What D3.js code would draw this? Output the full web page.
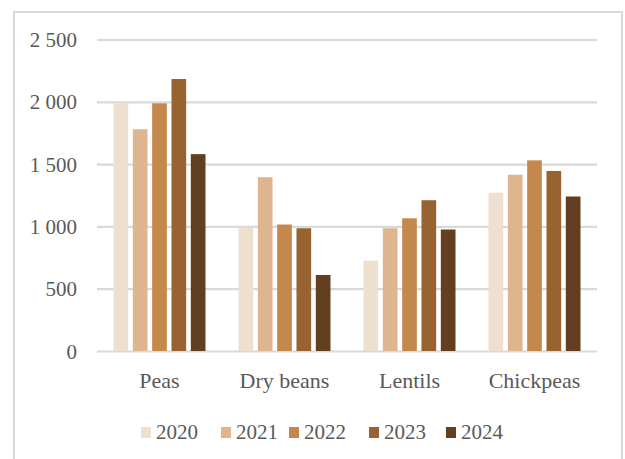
<!DOCTYPE html>
<html>
<head>
<meta charset="utf-8">
<script src="https://cdn.jsdelivr.net/npm/d3@7"></script>
<style>
html,body{margin:0;padding:0;background:#fff;}
svg{display:block;}
svg text{font-family:"Times New Roman","Liberation Serif","DejaVu Serif",serif !important;fill:#595959;}
</style>
</head>
<body>
<svg id="chart" width="625" height="459"></svg>
<script>
const categories = ["Peas", "Dry beans", "Lentils", "Chickpeas"];
const years = ["2020", "2021", "2022", "2023", "2024"];
const v2020 = [1990, 990, 725, 1270];
const v2021 = [1780, 1395, 985, 1415];
const v2022 = [1988, 1015, 1065, 1530];
const v2023 = [2183, 985, 1210, 1445];
const v2024 = [1580, 610, 975, 1240];
const yTicks = [0, 500, 1000, 1500, 2000, 2500];
const colors = ["#efdfcf", "#deb58f", "#c4884d", "#966331", "#623f21"];

const series = [v2020, v2021, v2022, v2023, v2024];
const svg = d3.select("#chart");

// frame
svg.append("path")
  .attr("d", "M14,470 V12 H622 V470")
  .attr("fill", "none").attr("stroke", "#d9d9d9").attr("stroke-width", 2);

const x0 = d3.scaleBand().domain(categories).range([97, 597]).paddingInner(0.264).paddingOuter(0.132);
const x1 = d3.scaleBand().domain(years).range([0, x0.bandwidth()]).paddingInner(0.24);
const y = d3.scaleLinear().domain([0, 2500]).range([351, 39.5]);

// grid
const yAxis = d3.axisLeft(y).tickValues(yTicks).tickSize(-500)
  .tickFormat(d => d3.format(",")(d).replace(/,/g, " "));
const gy = svg.append("g").attr("transform", "translate(97,0)").call(yAxis);
gy.attr("font-family", null).attr("font-size", null);
gy.select(".domain").remove();
gy.selectAll(".tick line").attr("stroke", "#d9d9d9").attr("stroke-width", 2.2);
gy.selectAll(".tick text").attr("x", -20).attr("dy", "0.34em")
  .style("font-size", "21px").attr("fill", "#595959");

// bars
categories.forEach((c, ci) => {
  const g = svg.append("g").attr("transform", `translate(${x0(c)},0)`);
  years.forEach((yr, yi) => {
    const v = series[yi][ci];
    g.append("rect")
      .attr("x", x1(yr)).attr("width", x1.bandwidth())
      .attr("y", y(v)).attr("height", y(0) - y(v))
      .attr("fill", colors[yi]);
  });
});

// x labels
const xAxis = d3.axisBottom(x0).tickSize(0);
const gx = svg.append("g").attr("transform", "translate(0,351)").call(xAxis);
gx.attr("font-family", null).attr("font-size", null);
gx.select(".domain").remove();
gx.selectAll(".tick text").attr("y", 37).attr("dy", 0)
  .style("font-size", "22px").attr("fill", "#595959");

// legend
const legendX = [141, 221, 289, 369, 446];
years.forEach((yr, i) => {
  const g = svg.append("g").attr("transform", `translate(${legendX[i]},0)`);
  g.append("rect").attr("x", 0).attr("y", 427).attr("width", 10).attr("height", 11).attr("fill", colors[i]);
  g.append("text").attr("x", 15).attr("y", 439).text(yr).style("font-size", "21px");
});
</script>
</body>
</html>
